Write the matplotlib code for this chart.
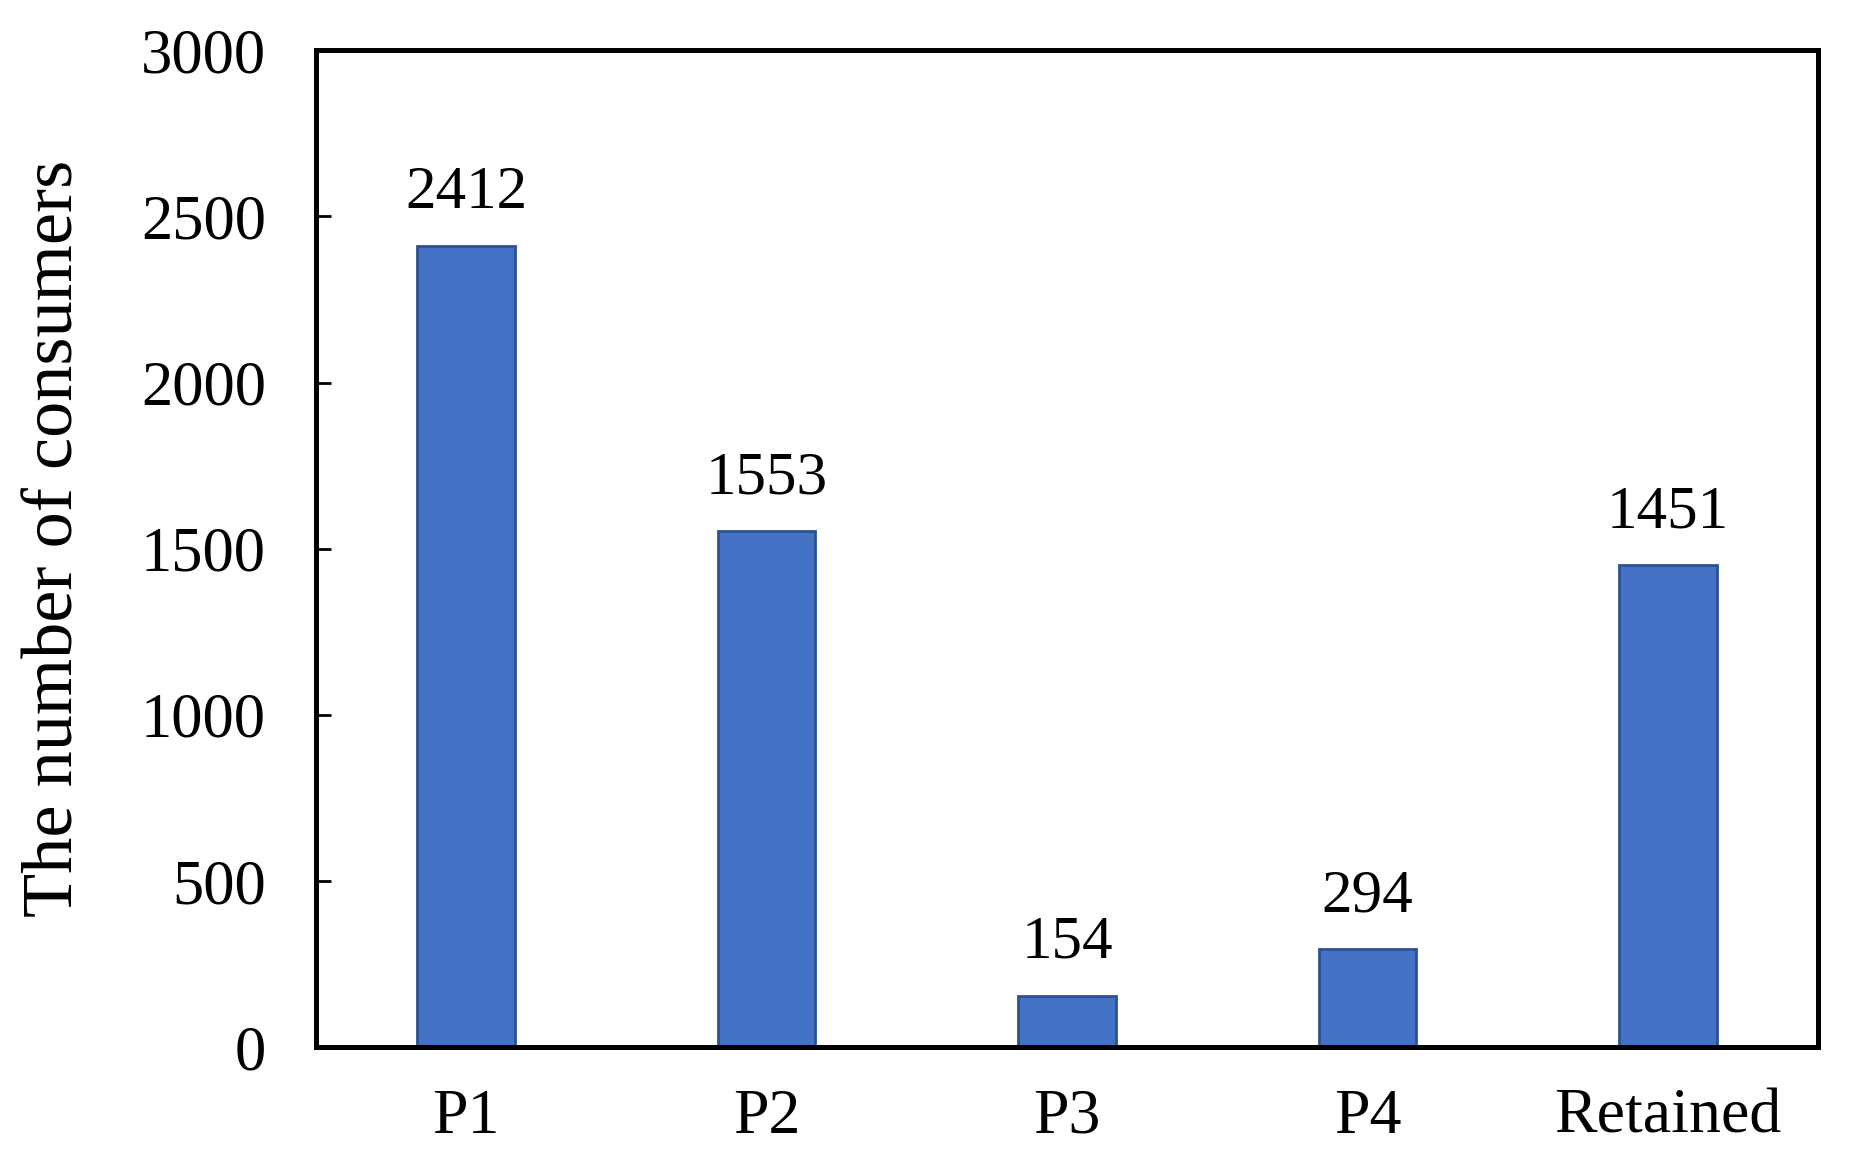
import matplotlib
matplotlib.use("Agg")
import matplotlib.pyplot as plt

categories = ["P1", "P2", "P3", "P4", "Retained"]
values = [2412, 1553, 154, 294, 1451]
yticks = [0, 500, 1000, 1500, 2000, 2500, 3000]

plt.rcParams['font.family'] = ['Liberation Serif', 'DejaVu Serif']

fig = plt.figure(figsize=(18.51, 11.70), dpi=100)
ax = fig.add_axes([0.1707, 0.105, 0.8115, 0.852])

x = range(len(categories))
bars = ax.bar(x, values, width=0.325, color="#4472C4", edgecolor="#2F528F", linewidth=2.0, zorder=2)
for xi, v in zip(x, values):
    ax.annotate(str(v), (xi, v), xytext=(0, 18), textcoords="offset points",
                ha="center", va="bottom", fontsize=44)

ax.set_xlim(-0.5, len(categories) - 0.5)
ax.set_ylim(0, 3000)
ax.set_yticks(yticks)
ax.set_xticks(list(x))
ax.set_xticklabels(categories)
for s in ax.spines.values():
    s.set_linewidth(3.6)
    s.set_zorder(3)
ax.tick_params(axis="y", direction="in", length=11, width=2, labelsize=45, pad=36)
ax.tick_params(axis="x", direction="in", length=9, width=1.2, labelsize=46, pad=30)
ax.set_ylabel("The number of consumers", fontsize=52)
ax.yaxis.set_label_coords(-0.152, 0.51)

fig.savefig("out.png", dpi=100)
